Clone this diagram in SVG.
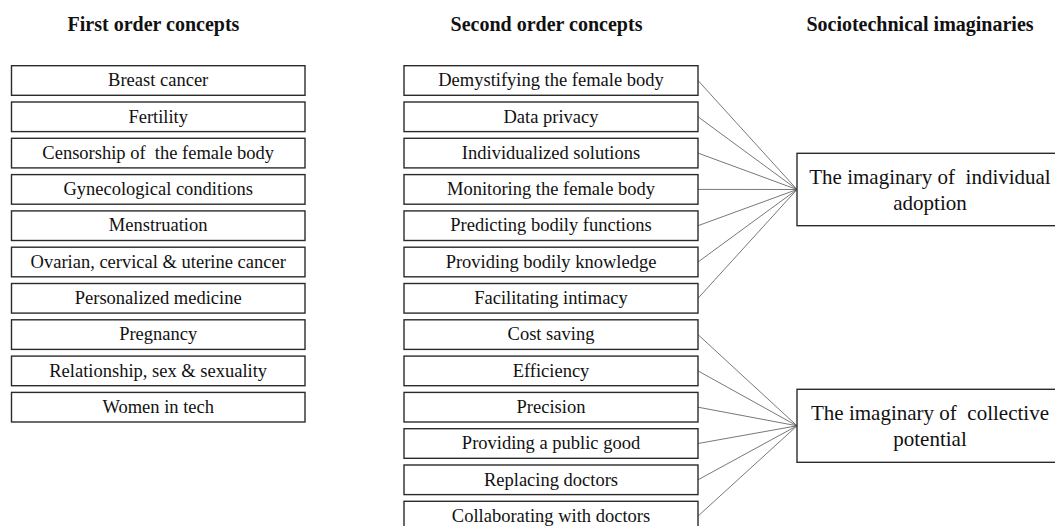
<svg xmlns="http://www.w3.org/2000/svg" width="1055" height="526" viewBox="0 0 1055 526">
  <style>
    .bg { fill: #ffffff; }
    .box { fill: #ffffff; stroke: #2b2b2b; stroke-width: 1.4; }
    .lbl { font-family: "Liberation Serif", "Times New Roman", serif; font-size: 18.5px; fill: #111111; text-anchor: middle; white-space: pre; }
    .big { font-family: "Liberation Serif", "Times New Roman", serif; font-size: 21px; fill: #111111; text-anchor: middle; white-space: pre; }
    .head { font-family: "Liberation Serif", "Times New Roman", serif; font-size: 20px; font-weight: bold; fill: #111111; text-anchor: middle; }
    .link { stroke: #555555; stroke-width: 0.8; fill: none; }
  </style>
  <rect class="bg" x="0" y="0" width="1055" height="526"/>

  <!-- column headings -->
  <g id="headings">
    <text class="head" x="153.5" y="31">First order concepts</text>
    <text class="head" x="546.5" y="31">Second order concepts</text>
    <text class="head" x="920" y="31">Sociotechnical imaginaries</text>
  </g>

  <!-- connectors: second order concepts to imaginaries -->
  <g id="connectors">
    <line class="link" x1="698" y1="80.5" x2="797" y2="189.5"/>
    <line class="link" x1="698" y1="116.8" x2="797" y2="189.5"/>
    <line class="link" x1="698" y1="153.1" x2="797" y2="189.5"/>
    <line class="link" x1="698" y1="189.4" x2="797" y2="189.5"/>
    <line class="link" x1="698" y1="225.7" x2="797" y2="189.5"/>
    <line class="link" x1="698" y1="262.0" x2="797" y2="189.5"/>
    <line class="link" x1="698" y1="298.3" x2="797" y2="189.5"/>
    <line class="link" x1="698" y1="334.6" x2="797" y2="425.8"/>
    <line class="link" x1="698" y1="370.9" x2="797" y2="425.8"/>
    <line class="link" x1="698" y1="407.2" x2="797" y2="425.8"/>
    <line class="link" x1="698" y1="443.5" x2="797" y2="425.8"/>
    <line class="link" x1="698" y1="479.8" x2="797" y2="425.8"/>
    <line class="link" x1="698" y1="516.1" x2="797" y2="425.8"/>
  </g>

  <!-- first order concepts -->
  <g id="f1"><rect class="box" x="11.5" y="65.7" width="293.5" height="29.6"/><text class="lbl" x="158.2" y="86.2">Breast cancer</text></g>
  <g id="f2"><rect class="box" x="11.5" y="102.0" width="293.5" height="29.6"/><text class="lbl" x="158.2" y="122.5">Fertility</text></g>
  <g id="f3"><rect class="box" x="11.5" y="138.3" width="293.5" height="29.6"/><text class="lbl" x="158.2" y="158.8">Censorship of  the female body</text></g>
  <g id="f4"><rect class="box" x="11.5" y="174.6" width="293.5" height="29.6"/><text class="lbl" x="158.2" y="195.1">Gynecological conditions</text></g>
  <g id="f5"><rect class="box" x="11.5" y="210.9" width="293.5" height="29.6"/><text class="lbl" x="158.2" y="231.4">Menstruation</text></g>
  <g id="f6"><rect class="box" x="11.5" y="247.2" width="293.5" height="29.6"/><text class="lbl" x="158.2" y="267.7">Ovarian, cervical &amp; uterine cancer</text></g>
  <g id="f7"><rect class="box" x="11.5" y="283.5" width="293.5" height="29.6"/><text class="lbl" x="158.2" y="304.0">Personalized medicine</text></g>
  <g id="f8"><rect class="box" x="11.5" y="319.8" width="293.5" height="29.6"/><text class="lbl" x="158.2" y="340.3">Pregnancy</text></g>
  <g id="f9"><rect class="box" x="11.5" y="356.1" width="293.5" height="29.6"/><text class="lbl" x="158.2" y="376.6">Relationship, sex &amp; sexuality</text></g>
  <g id="f10"><rect class="box" x="11.5" y="392.4" width="293.5" height="29.6"/><text class="lbl" x="158.2" y="412.9">Women in tech</text></g>

  <!-- second order concepts -->
  <g id="s1"><rect class="box" x="404" y="65.7" width="294" height="29.6"/><text class="lbl" x="551" y="86.2">Demystifying the female body</text></g>
  <g id="s2"><rect class="box" x="404" y="102.0" width="294" height="29.6"/><text class="lbl" x="551" y="122.5">Data privacy</text></g>
  <g id="s3"><rect class="box" x="404" y="138.3" width="294" height="29.6"/><text class="lbl" x="551" y="158.8">Individualized solutions</text></g>
  <g id="s4"><rect class="box" x="404" y="174.6" width="294" height="29.6"/><text class="lbl" x="551" y="195.1">Monitoring the female body</text></g>
  <g id="s5"><rect class="box" x="404" y="210.9" width="294" height="29.6"/><text class="lbl" x="551" y="231.4">Predicting bodily functions</text></g>
  <g id="s6"><rect class="box" x="404" y="247.2" width="294" height="29.6"/><text class="lbl" x="551" y="267.7">Providing bodily knowledge</text></g>
  <g id="s7"><rect class="box" x="404" y="283.5" width="294" height="29.6"/><text class="lbl" x="551" y="304.0">Facilitating intimacy</text></g>
  <g id="s8"><rect class="box" x="404" y="319.8" width="294" height="29.6"/><text class="lbl" x="551" y="340.3">Cost saving</text></g>
  <g id="s9"><rect class="box" x="404" y="356.1" width="294" height="29.6"/><text class="lbl" x="551" y="376.6">Efficiency</text></g>
  <g id="s10"><rect class="box" x="404" y="392.4" width="294" height="29.6"/><text class="lbl" x="551" y="412.9">Precision</text></g>
  <g id="s11"><rect class="box" x="404" y="428.7" width="294" height="29.6"/><text class="lbl" x="551" y="449.2">Providing a public good</text></g>
  <g id="s12"><rect class="box" x="404" y="465.0" width="294" height="29.6"/><text class="lbl" x="551" y="485.5">Replacing doctors</text></g>
  <g id="s13"><rect class="box" x="404" y="501.3" width="294" height="29.6"/><text class="lbl" x="551" y="521.8">Collaborating with doctors</text></g>

  <!-- sociotechnical imaginaries -->
  <g id="i1">
    <rect class="box" x="797" y="153.3" width="266" height="72.4"/>
    <text class="big" x="930" y="184.3">The imaginary of  individual</text>
    <text class="big" x="930" y="210">adoption</text>
  </g>
  <g id="i2">
    <rect class="box" x="797" y="389.3" width="266" height="73"/>
    <text class="big" x="930" y="420.3">The imaginary of  collective</text>
    <text class="big" x="930" y="446">potential</text>
  </g>
</svg>
